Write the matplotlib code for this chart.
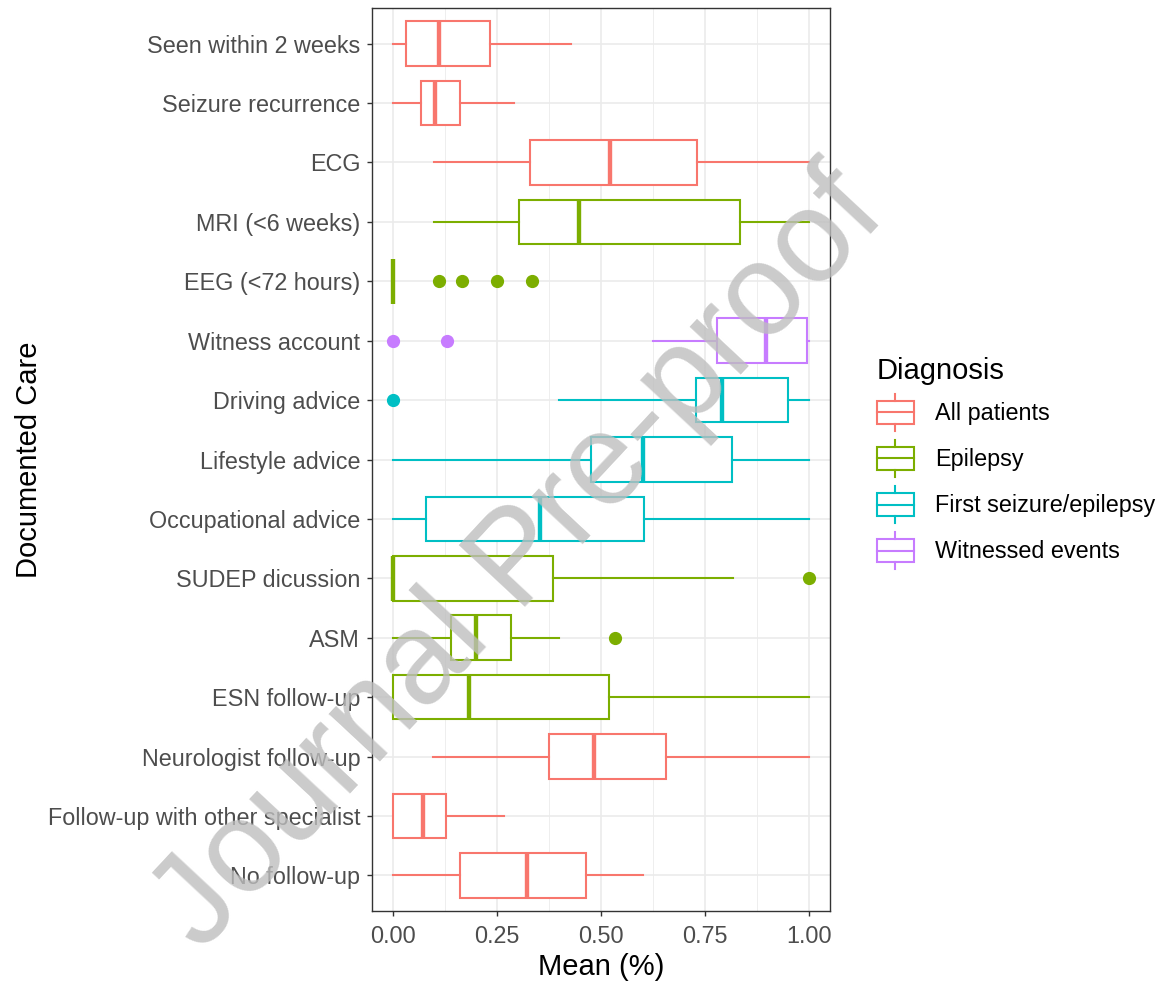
import matplotlib
matplotlib.use("Agg")
import matplotlib.pyplot as plt
from matplotlib.patches import Patch, Rectangle
from matplotlib.lines import Line2D
from matplotlib.legend_handler import HandlerBase
from matplotlib.ticker import MultipleLocator

plt.rcParams['font.family'] = ['Liberation Sans', 'DejaVu Sans']

# --- Datos (de arriba hacia abajo) ---
categories = ["Seen within 2 weeks", "Seizure recurrence", "ECG", "MRI (<6 weeks)",
              "EEG (<72 hours)", "Witness account", "Driving advice", "Lifestyle advice",
              "Occupational advice", "SUDEP dicussion", "ASM", "ESN follow-up",
              "Neurologist follow-up", "Follow-up with other specialist", "No follow-up"]
diagnosis = ["All patients", "All patients", "All patients", "Epilepsy",
             "Epilepsy", "Witnessed events", "First seizure/epilepsy", "First seizure/epilepsy",
             "First seizure/epilepsy", "Epilepsy", "Epilepsy", "Epilepsy",
             "All patients", "All patients", "All patients"]
whislo = [0.00, 0.00, 0.10, 0.10, 0.00, 0.626, 0.40, 0.00, 0.00, 0.00, 0.00, 0.00, 0.097, 0.00, 0.00]
q1     = [0.032, 0.067, 0.330, 0.302, 0.00, 0.778, 0.728, 0.477, 0.079, 0.00, 0.141, 0.00, 0.374, 0.00, 0.161]
med    = [0.110, 0.101, 0.522, 0.446, 0.00, 0.896, 0.790, 0.600, 0.354, 0.00, 0.200, 0.183, 0.484, 0.073, 0.322]
q3     = [0.234, 0.161, 0.731, 0.834, 0.00, 0.994, 0.948, 0.815, 0.604, 0.385, 0.285, 0.520, 0.656, 0.127, 0.465]
whishi = [0.428, 0.290, 1.00, 1.00, 0.00, 1.00, 1.00, 1.00, 1.00, 0.818, 0.400, 1.00, 1.00, 0.266, 0.600]
outliers = [[], [], [], [], [0.111, 0.166, 0.250, 0.334], [0.0, 0.130], [0.0], [], [], [1.0],
            [0.533], [], [], [], []]

groups = ["All patients", "Epilepsy", "First seizure/epilepsy", "Witnessed events"]
colors = {"All patients": "#F8766D", "Epilepsy": "#7CAE00",
          "First seizure/epilepsy": "#00BFC4", "Witnessed events": "#C77CFF"}

fig = plt.figure(figsize=(11.58, 9.81), dpi=100)
ax = fig.add_axes([0.3212, 0.0714, 0.7168 - 0.3212, 0.9918 - 0.0714])

n = len(categories)
lw = 1.5
for i, cat in enumerate(categories):
    c = colors[diagnosis[i]]
    st = dict(label=cat, whislo=whislo[i], q1=q1[i], med=med[i], q3=q3[i],
              whishi=whishi[i], fliers=outliers[i])
    ax.bxp([st], positions=[n - i], widths=0.75, orientation='horizontal',
           patch_artist=True, showcaps=False,
           boxprops=dict(facecolor='white', edgecolor=c, linewidth=lw),
           medianprops=dict(color=c, linewidth=lw * 2.1, solid_capstyle='butt'),
           whiskerprops=dict(color=c, linewidth=lw),
           flierprops=dict(marker='o', markerfacecolor=c, markeredgecolor=c,
                           markersize=8.5, linestyle='none'),
           zorder=3)

ax.set_xlim(-0.05, 1.05)
ax.set_ylim(0.4, n + 0.6)
ax.set_yticks(range(n, 0, -1))
ax.set_yticklabels(categories)
ax.xaxis.set_major_locator(MultipleLocator(0.25))
ax.xaxis.set_minor_locator(MultipleLocator(0.125))
ax.set_xticks([0, 0.25, 0.5, 0.75, 1.0])
ax.set_xticklabels(["0.00", "0.25", "0.50", "0.75", "1.00"])

ax.grid(which='major', color='#EBEBEB', linewidth=1.2, zorder=0)
ax.grid(which='minor', axis='x', color='#EBEBEB', linewidth=0.6, zorder=0)
ax.set_axisbelow(True)
for s in ax.spines.values():
    s.set_color('#333333')
    s.set_linewidth(1.0)
ax.tick_params(which='major', length=3.5, width=1.0, color='#333333',
               labelsize=16.8, labelcolor='#4D4D4D')
ax.tick_params(axis='y', pad=5)
ax.tick_params(axis='x', pad=6.5)
ax.tick_params(which='minor', length=0)

ax.set_xlabel("Mean (%)", fontsize=21, labelpad=4)
ax.set_ylabel("Documented Care", fontsize=21, labelpad=3)


# --- Leyenda con llave tipo boxplot ---
class BoxKey(HandlerBase):
    def create_artists(self, legend, orig_handle, xdescent, ydescent, width, height, fontsize, trans):
        c = orig_handle.get_edgecolor()
        x0, y0 = -xdescent, -ydescent
        rect = Rectangle((x0, y0 + 0.19 * height), width, 0.62 * height,
                         facecolor='white', edgecolor=c, linewidth=lw, transform=trans)
        mid = Line2D([x0, x0 + width], [y0 + height / 2] * 2, color=c, lw=lw, transform=trans)
        w1 = Line2D([x0 + width / 2] * 2, [y0, y0 + 0.19 * height], color=c, lw=lw, transform=trans)
        w2 = Line2D([x0 + width / 2] * 2, [y0 + 0.81 * height, y0 + height], color=c, lw=lw, transform=trans)
        return [rect, mid, w1, w2]


handles = [Patch(edgecolor=colors[g], facecolor='white', label=g) for g in groups]
leg = fig.legend(handles=handles, title="Diagnosis", loc='center left',
                 bbox_to_anchor=(0.747, 0.528), frameon=False, fontsize=16.8,
                 title_fontsize=21, handler_map={Patch: BoxKey()},
                 handlelength=1.59, handleheight=2.07, labelspacing=0.39,
                 handletextpad=0.9, borderpad=0, alignment='left')

# --- Marca de agua ---
fig.text(0.449, 0.428, "Journal Pre-proof", fontsize=94, color='#BEBEBE', alpha=0.8,
         rotation=47, ha='center', va='center', rotation_mode='anchor', zorder=10)

fig.savefig("out.png", dpi=100)
